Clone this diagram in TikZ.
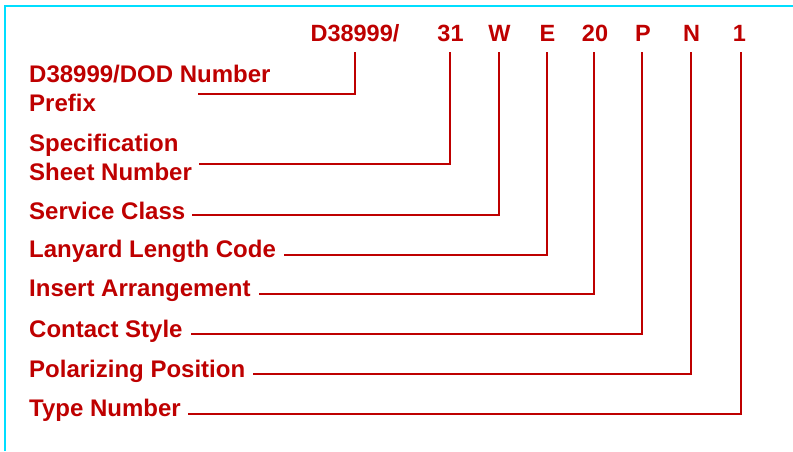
\documentclass[tikz,border=0pt]{standalone}
\usepackage{fontspec}
\setmainfont{Liberation Sans}
\definecolor{codered}{RGB}{190,0,0}
\definecolor{framecyan}{RGB}{0,222,255}
\begin{document}
\begin{tikzpicture}[x=1pt,y=1pt,
  lbl/.style={anchor=base west,inner sep=0pt,text=codered,font=\fontsize{24}{28}\selectfont\bfseries},
  code/.style={anchor=base,inner sep=0pt,text=codered,font=\fontsize{23.5}{28}\selectfont\bfseries},
  conn/.style={draw=codered,line width=2pt,line cap=rect,line join=miter},
  frameline/.style={draw=framecyan,line width=2pt}]
\useasboundingbox (0,0) rectangle (793,451);
% frame
\coordinate (fr1) at (5,0);
\coordinate (fr2) at (5,445);
\coordinate (fr3) at (793,445);
\draw[frameline] (fr1) -- (fr2) -- (fr3);
% code characters
\node[code] (cD) at (355,409.3) {D38999/};
\node[code] (c31) at (450.5,409.3) {31};
\node[code] (cW) at (499.5,409.3) {W};
\node[code] (cE) at (547.5,409.3) {E};
\node[code] (c20) at (595,409.3) {20};
\node[code] (cP) at (643,409.3) {P};
\node[code] (cN) at (691.5,409.3) {N};
\node[code] (c1) at (739.5,409.3) {1};
% labels
\node[lbl] (pfxA) at (29,451-82.3) {D38999/DOD Number};
\node[lbl] (pfx) at (29,451-111) {Prefix};
\node[lbl] (specA) at (29,451-151) {Specification};
\node[lbl] (spec) at (29,451-180) {Sheet Number};
\node[lbl] (svc) at (29,451-219) {Service Class};
\node[lbl] (lan) at (29,451-257.7) {Lanyard Length Code};
\node[lbl] (ins) at (29,451-296.7) {Insert Arrangement};
\node[lbl] (con) at (29,451-337.3) {Contact Style};
\node[lbl] (pol) at (29,451-377.3) {Polarizing Position};
\node[lbl] (typ) at (29,451-416.7) {Type Number};
% connectors
\coordinate (pfxstart) at (199,451-94.3);
\draw[conn] (pfxstart) -| ([xshift=-0.5pt,yshift=-11.3pt]cD.base);
\draw[conn] ([xshift=8pt,yshift=16pt]spec.base east) -| ([xshift=-0.2pt,yshift=-11.3pt]c31.base);
\draw[conn] ([xshift=7pt,yshift=4.5pt]svc.base east) -| ([xshift=-0.5pt,yshift=-11.3pt]cW.base);
\draw[conn] ([xshift=9pt,yshift=3pt]lan.base east) -| ([xshift=-0.8pt,yshift=-11.3pt]cE.base);
\draw[conn] ([xshift=9pt,yshift=2.4pt]ins.base east) -| ([xshift=-0.7pt,yshift=-11.3pt]c20.base);
\draw[conn] ([xshift=9pt,yshift=3pt]con.base east) -| ([xshift=-0.7pt,yshift=-11.3pt]cP.base);
\draw[conn] ([xshift=8.5pt,yshift=3.3pt]pol.base east) -| ([xshift=-0.8pt,yshift=-11.3pt]cN.base);
\draw[conn] ([xshift=8.5pt,yshift=2.4pt]typ.base east) -| ([xshift=1.5pt,yshift=-11.3pt]c1.base);
\end{tikzpicture}
\end{document}
